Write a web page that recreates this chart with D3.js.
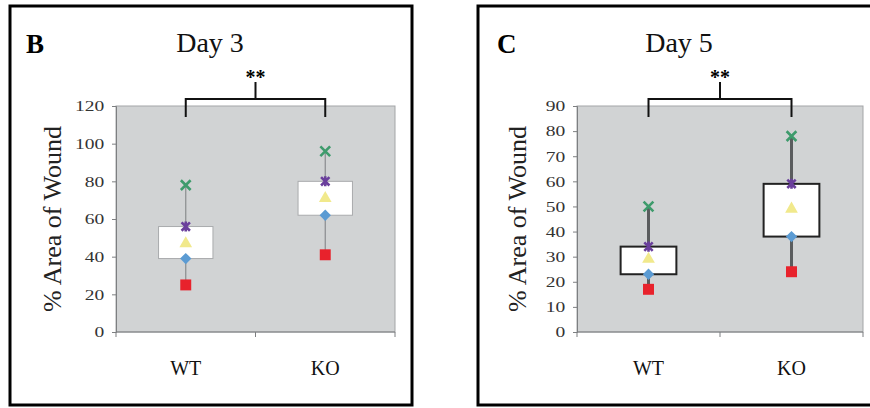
<!DOCTYPE html>
<html>
<head>
<meta charset="utf-8">
<script src="https://cdn.jsdelivr.net/npm/d3@7"></script>
<style>
  body { margin: 0; background: #fff; }
  svg { display: block; }
  svg text { font-family: "Liberation Serif", "DejaVu Serif", serif; }
</style>
</head>
<body>
<div id="chart"></div>
<script>
// categories and values
var categories = ["WT", "KO"];

// Day 3
var day3Min = [25, 41],
    day3Q1  = [39, 62],
    day3Med = [47, 71],
    day3Q3  = [56, 80],
    day3Max = [78, 96];
var day3Ticks = [0, 20, 40, 60, 80, 100, 120];

// Day 5
var day5Min = [17, 24],
    day5Q1  = [23, 38],
    day5Med = [29, 49],
    day5Q3  = [34, 59],
    day5Max = [50, 78];
var day5Ticks = [0, 10, 20, 30, 40, 50, 60, 70, 80, 90];

var svg = d3.select("#chart").append("svg")
    .attr("width", 870)
    .attr("height", 408);

// excel-like "star" marker: an X with a vertical bar
var symbolStar = {
  draw: function(context, size) {
    var r = Math.sqrt(size) / 2;
    context.moveTo(-r, -r); context.lineTo(r, r);
    context.moveTo(-r, r); context.lineTo(r, -r);
    context.moveTo(0, -r * 1.2); context.lineTo(0, r * 1.2);
  }
};

function panel(o) {
  var g = svg.append("g");

  // outer frame
  g.append("rect")
    .attr("x", o.frame[0]).attr("y", 6)
    .attr("width", o.frame[1] - o.frame[0]).attr("height", 399)
    .attr("fill", "none").attr("stroke", "#000").attr("stroke-width", 3);

  var x = d3.scaleBand().domain(categories).range([o.left, o.right]);
  var y = d3.scaleLinear().domain([0, o.ticks[o.ticks.length - 1]]).range([332, 106]);

  // plot area
  g.append("rect")
    .attr("x", o.left).attr("y", 106)
    .attr("width", o.right - o.left).attr("height", 226)
    .attr("fill", "#d1d3d4").attr("stroke", "#a3a5a7").attr("stroke-width", 1);

  // y axis
  var ya = g.append("g")
    .attr("transform", "translate(" + o.left + ",0)")
    .call(d3.axisLeft(y).tickValues(o.ticks).tickSize(4).tickPadding(5));
  ya.attr("font-family", null);
  ya.select(".domain").attr("stroke", "#7d7f81");
  ya.selectAll(".tick line").attr("stroke", "#7d7f81");
  ya.selectAll(".tick text")
    .attr("font-size", 15)
    .attr("fill", "#333")
    .attr("transform", "scale(1.3,1)");

  // x axis: ticks at band edges
  var xa = g.append("g").attr("transform", "translate(0,332)");
  xa.append("line").attr("x1", o.left).attr("x2", o.right)
    .attr("stroke", "#7d7f81");
  var edges = [o.left, o.left + x.bandwidth(), o.right];
  xa.selectAll(".xt").data(edges).enter().append("line")
    .attr("x1", function(d) { return d; }).attr("x2", function(d) { return d; })
    .attr("y1", 0).attr("y2", 5).attr("stroke", "#7d7f81");
  xa.selectAll(".xl").data(categories).enter().append("text")
    .attr("x", function(d) { return x(d) + x.bandwidth() / 2; })
    .attr("y", 43)
    .attr("text-anchor", "middle")
    .attr("font-size", 20)
    .attr("fill", "#111")
    .text(function(d) { return d; });

  // y label
  g.append("text")
    .attr("transform", "translate(" + o.ylabX + ",219) rotate(-90)")
    .attr("text-anchor", "middle")
    .attr("font-family", "Liberation Serif")
    .attr("font-size", 26)
    .attr("fill", "#222")
    .text("% Area of Wound");

  // panel letter and title
  g.append("text").attr("x", o.letterX).attr("y", 53)
    .attr("font-size", 27).attr("font-weight", "bold").text(o.letter);
  g.append("text").attr("x", o.titleX).attr("y", 52)
    .attr("text-anchor", "middle").attr("font-size", 28).attr("fill", "#111")
    .text(o.title);

  // significance bracket
  var c0 = x(categories[0]) + x.bandwidth() / 2,
      c1 = x(categories[1]) + x.bandwidth() / 2,
      mid = (c0 + c1) / 2;
  g.append("path")
    .attr("d", "M" + c0 + ",117V99H" + c1 + "V117M" + mid + ",99V82")
    .attr("fill", "none").attr("stroke", "#111").attr("stroke-width", 2);
  g.append("text").attr("x", mid).attr("y", 84)
    .attr("text-anchor", "middle").attr("font-size", 20).attr("font-weight", "bold")
    .text("**");

  // boxes
  var bw = x.bandwidth() * 0.39;
  categories.forEach(function(cat, i) {
    var cx = x(cat) + x.bandwidth() / 2;
    g.append("line")
      .attr("x1", cx).attr("x2", cx)
      .attr("y1", y(o.min[i])).attr("y2", y(o.max[i]))
      .attr("stroke", o.whisker).attr("stroke-width", o.whiskerW);
    g.append("rect")
      .attr("x", cx - bw / 2).attr("y", y(o.q3[i]))
      .attr("width", bw).attr("height", y(o.q1[i]) - y(o.q3[i]))
      .attr("fill", "#fff").attr("stroke", o.boxStroke).attr("stroke-width", o.boxW);

    function mark(type, v, color, size, stroked, rot) {
      var p = g.append("path")
        .attr("transform", "translate(" + cx + "," + y(v) + ") rotate(" + (rot || 0) + ")")
        .attr("d", d3.symbol().type(type).size(size)());
      if (stroked) p.attr("fill", "none").attr("stroke", color).attr("stroke-width", 2.6);
      else p.attr("fill", color);
    }
    mark(d3.symbolSquare, o.min[i], "#e8222c", 120, false);
    mark(d3.symbolSquare, o.q1[i], "#5b9bd3", 64, false, 45);
    mark(d3.symbolTriangle, o.med[i], "#f1e98c", 70, false);
    mark(symbolStar, o.q3[i], "#6a3f9c", 70, true);
    mark(d3.symbolX, o.max[i], "#3e9b6c", 64, true);
  });
}

panel({
  frame: [10, 412], left: 116, right: 395,
  ticks: day3Ticks, min: day3Min, q1: day3Q1, med: day3Med, q3: day3Q3, max: day3Max,
  ylabX: 61, letter: "B", letterX: 26, title: "Day 3", titleX: 210,
  whisker: "#8a8c8e", whiskerW: 1.2, boxStroke: "#a9abad", boxW: 1
});
panel({
  frame: [478, 900], left: 577, right: 863,
  ticks: day5Ticks, min: day5Min, q1: day5Q1, med: day5Med, q3: day5Q3, max: day5Max,
  ylabX: 526, letter: "C", letterX: 497, title: "Day 5", titleX: 679,
  whisker: "#5a5c5e", whiskerW: 3, boxStroke: "#222", boxW: 2
});
</script>
</body>
</html>
